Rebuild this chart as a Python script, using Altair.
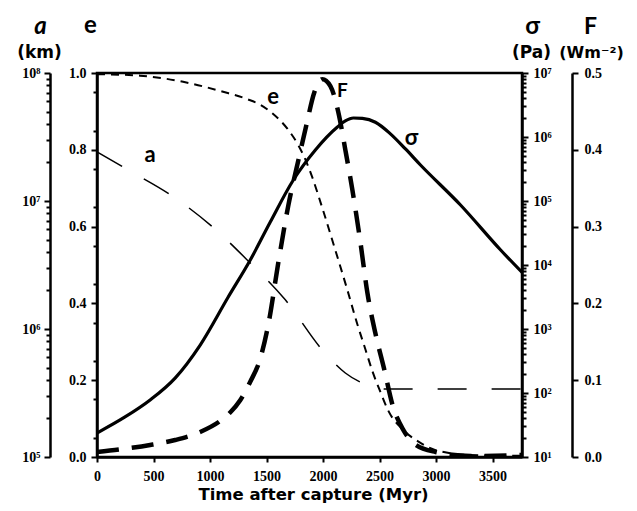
import altair as alt
import pandas as pd

# ---------------- data ----------------
x_ticks = [0, 500, 1000, 1500, 2000, 2500, 3000, 3500]

# a : orbit semi-major axis (km), log scale
a_time = [0, 275, 682, 1054, 1329, 1666, 1994, 2197, 2392, 2552, 3766]
a_km = [2.42e7, 1.75e7, 1.07e7, 5.93e6, 3.46e6, 1.69e6, 6.85e5, 4.53e5, 3.65e5, 3.40e5, 3.40e5]

# e : eccentricity
e_time = [0, 381, 762, 1116, 1329, 1440, 1551, 1684, 1781, 1843, 1905, 1994, 2100, 2215,
          2304, 2375, 2437, 2508, 2578, 2711, 2844, 2995, 3305, 3766]
e_val = [0.997, 0.993, 0.977, 0.951, 0.932, 0.918, 0.895, 0.855, 0.812, 0.775, 0.728, 0.648,
         0.547, 0.435, 0.345, 0.280, 0.223, 0.169, 0.120, 0.070, 0.040, 0.018, 0.005, 0.003]

# F : heat flux (W m^-2)
F_time = [0, 230, 470, 691, 913, 1090, 1178, 1267, 1356, 1444, 1515, 1604, 1692, 1781,
          1852, 1923, 1994, 2065, 2135, 2197, 2259, 2330, 2392, 2463, 2543, 2614, 2711,
          2818, 2995, 3305, 3766]
F_val = [0.0065, 0.0104, 0.0156, 0.0221, 0.0326, 0.0470, 0.0580, 0.0740, 0.0980, 0.128,
         0.172, 0.253, 0.327, 0.386, 0.432, 0.475, 0.492, 0.483, 0.449, 0.400, 0.348,
         0.280, 0.214, 0.161, 0.113, 0.068, 0.035, 0.016, 0.0065, 0.0013, 0.0026]

# sigma : stress (Pa), log scale
s_time = [0, 248, 470, 691, 913, 1161, 1356, 1533, 1737, 1932, 2127, 2197, 2268, 2348,
          2463, 2596, 2729, 2862, 3216, 3571, 3766]
s_pa = [23.7, 42.2, 77.8, 171, 562, 3162, 11970, 46990, 212800, 626600, 1.432e6,
        1.78e6, 1.98e6, 1.95e6, 1.70e6, 1.12e6, 6.5e5, 3.65e5, 86600, 17140, 7500]

# curve labels
label_names = ["a", "e", "F", "σ"]
label_time = [470, 1559, 2171, 2782]
label_value = [2.29e7, 0.9375, 0.4766, 9.6e5]

a_major = [1e5, 1e6, 1e7, 1e8]
s_major = [1e1, 1e2, 1e3, 1e4, 1e5, 1e6, 1e7]
e_major = [0.0, 0.2, 0.4, 0.6, 0.8, 1.0]
F_major = [0.0, 0.1, 0.2, 0.3, 0.4, 0.5]

# ---------------- helpers ----------------
a_minor = [k * 10 ** d for d in range(5, 8) for k in range(2, 10)]
s_minor = [k * 10 ** d for d in range(1, 7) for k in range(2, 10)]
e_minor = [round(0.05 * i, 2) for i in range(1, 20, 2)]

df_a = pd.DataFrame({"t": a_time, "v": a_km})
df_e = pd.DataFrame({"t": e_time, "v": e_val})
df_F = pd.DataFrame({"t": F_time, "v": F_val})
df_s = pd.DataFrame({"t": s_time, "v": s_pa})

LBL = "Liberation Serif"
TTL = "DejaVu Sans"
CRV = "Lato"
SUP = "'10' + ['⁰','¹','²','³','⁴','⁵','⁶','⁷','⁸','⁹'][round(log(datum.value)/LN10)]"

X = alt.X("t:Q", scale=alt.Scale(domain=[0, 3760], nice=False, zero=False),
          axis=alt.Axis(values=x_ticks, title="Time after capture (Myr)", format="d",
                        labelFont=LBL, labelFontWeight="bold", labelFontSize=14,
                        labelColor="black", labelPadding=7, tickSize=5, tickWidth=2,
                        tickColor="black", domainColor="black", domainWidth=2.5,
                        grid=False, labelFlush=False,
                        titleFont=TTL, titleFontWeight="bold", titleFontSize=16.5,
                        titleColor="black", titleBaseline="alphabetic", titleY=42,
                        titleX=216))


def yax(orient, offset, values, title, tx, ty, tsize, labels=True, fmt=None,
        expr=None, tick=6, domain=True, italic=False, ticks=True, lpad=4,
        tfont=TTL):
    kw = dict(orient=orient, offset=offset, values=values, grid=False,
              tickSize=tick, tickWidth=2, tickColor="black", ticks=ticks,
              domain=domain, domainColor="black", domainWidth=2.5,
              labels=labels, labelFont=LBL, labelFontWeight="bold",
              labelFontSize=14, labelColor="black", labelPadding=lpad,
              titleAngle=0, titleX=tx, titleY=ty,
              titleAlign="center", titleBaseline="alphabetic",
              titleFont=tfont, titleFontWeight="bold", titleFontSize=tsize,
              titleColor="black")
    kw["title"] = title if title else ""
    if fmt:
        kw["format"] = fmt
    if expr:
        kw["labelExpr"] = expr
    if italic:
        kw["titleFontStyle"] = "italic"
    return alt.Axis(**kw)


def line(df, scale, axis, dash=None, width=2.0, opacity=1.0):
    mk = dict(color="black", strokeWidth=width, interpolate="monotone",
              opacity=opacity, clip=True)
    if dash:
        mk["strokeDash"] = dash
    return alt.Chart(df).mark_line(**mk).encode(
        x=X, y=alt.Y("v:Q", scale=scale, axis=axis))


def label(i, scale, size):
    d = pd.DataFrame({"t": [label_time[i]], "v": [label_value[i]],
                      "txt": [label_names[i]]})
    return alt.Chart(d).mark_text(font=CRV, fontWeight="bold", fontSize=size,
                                  color="black").encode(
        x=X, y=alt.Y("v:Q", scale=scale, axis=None), text="txt:N")


def sc_a():
    return alt.Scale(type="log", domain=[1e5, 1e8], nice=False, zero=False)


def sc_e():
    return alt.Scale(domain=[0, 1], nice=False, zero=False)


def sc_s():
    return alt.Scale(type="log", domain=[1e1, 1e7], nice=False, zero=False)


def sc_F():
    return alt.Scale(domain=[0, 0.5], nice=False, zero=False)


layers = [
    line(df_a, sc_a(), yax("left", 47, a_major, "a", -10, -40, 24, expr=SUP,
                           italic=True, tfont=CRV),
         dash=[29, 25], width=1.5),
    line(df_a, sc_a(), yax("left", 47, a_minor, "(km)", -11, -16, 17,
                           labels=False, tick=4, domain=False), opacity=0),
    line(df_e, sc_e(), yax("left", 0, e_major, "e", -7, -41, 24, fmt=".1f", lpad=5,
                           tfont=CRV),
         dash=[8, 6], width=2.0),
    line(df_e, sc_e(), yax("left", 0, e_minor, None, 0, 0, 12,
                           labels=False, tick=4, domain=False), opacity=0),
    line(df_s, sc_s(), yax("right", 0, s_major, "σ", 10, -40, 24, expr=SUP, lpad=5,
                           tfont=CRV),
         width=3.2),
    line(df_s, sc_s(), yax("right", 0, s_minor, "(Pa)", 9, -16, 17,
                           labels=False, tick=4, domain=False), opacity=0),
    line(df_F, sc_F(), yax("right", 50, F_major, "F", 18, -40, 23, fmt=".1f", lpad=6,
                           tfont=CRV),
         dash=[22, 13], width=4.5),
    line(df_F, sc_F(), yax("right", 50, F_major, "(Wm⁻²)", 19, -16, 16,
                           labels=False, ticks=False, domain=False), opacity=0),
    label(0, sc_a(), 22),
    label(1, sc_e(), 22),
    label(2, sc_F(), 19),
    label(3, sc_s(), 22),
]

chart = alt.layer(*layers).resolve_scale(y="independent").properties(
    width=425, height=384,
    autosize=alt.AutoSizeParams(type="none"),
    padding={"left": 89, "top": 65, "right": 107, "bottom": 46},
    background="white",
).configure_view(stroke="black", strokeWidth=2.5)

chart.save("out.html", embed_options={"renderer": "svg", "actions": False})
